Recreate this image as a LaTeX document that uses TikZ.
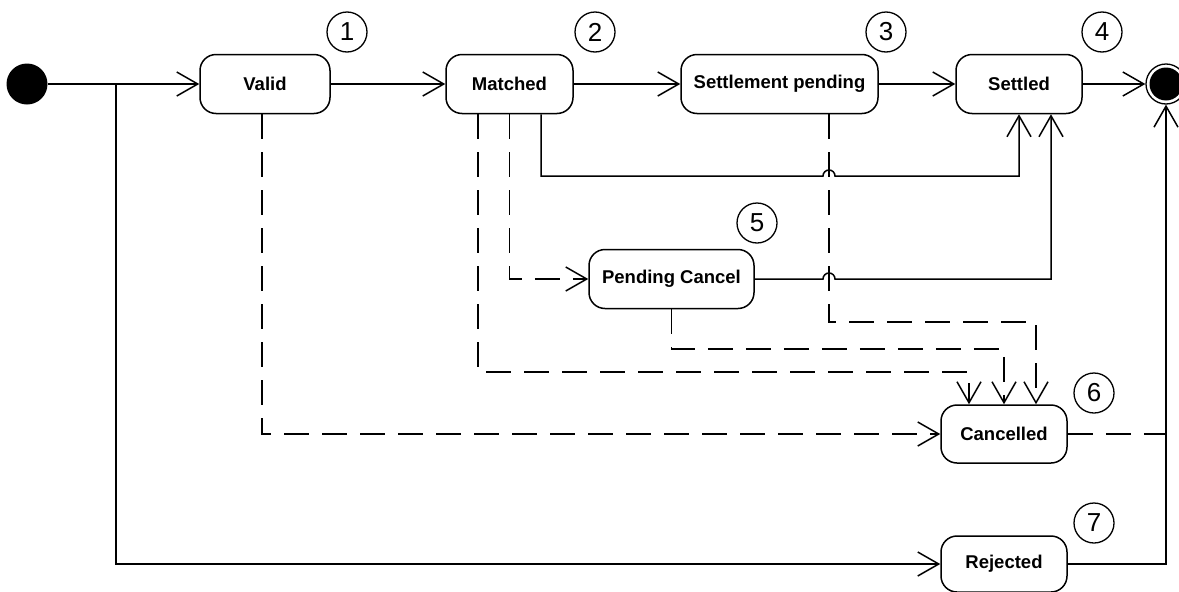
\documentclass[tikz,border=0pt]{standalone}
\usepackage{fontspec}
\setmainfont{Liberation Sans}
\usetikzlibrary{arrows.meta}
\begin{document}
\begin{tikzpicture}[x=1pt,y=-1pt,
  line width=1.5pt,
  >={Straight Barb[length=21pt,width=24pt]},
  state/.style={draw, rounded corners=16pt, minimum height=59pt, inner sep=0pt, font=\bfseries\fontsize{18.5}{20}\selectfont},
  numc/.style={draw, circle, minimum size=40pt, inner sep=0pt, line width=1.3pt, font=\fontsize{26}{26}\selectfont},
  dsh/.style={dash pattern=on 25pt off 13pt}]
\useasboundingbox (0,0) rectangle (1179,592);
% start / final
\node[circle, fill=black, minimum size=41pt, inner sep=0pt] (start) at (27,84) {};
\node[circle, draw, line width=1.3pt, minimum size=40pt, inner sep=0pt] (final) at (1166,84) {};
\fill (final.center) circle (16.5pt);
% states
\node[state, minimum width=130pt] (valid) at (265,84) {Valid};
\node[state, minimum width=127pt] (matched) at (509.5,84) {Matched};
\node[state, minimum width=197pt] (sp) at (779.5,84) {Settlement pending};
\node[state, minimum width=126pt] (settled) at (1019,84) {Settled};
\node[state, minimum width=165pt] (pc) at (671.5,279) {Pending Cancel};
\node[state, minimum width=126pt, minimum height=58pt] (cancelled) at (1004,434) {Cancelled};
\node[state, minimum width=126pt, minimum height=56pt] (rejected) at (1004,564) {Rejected};
% numbers
\node[numc] (n1) at (347,32) {1};
\node[numc] (n2) at (595,32) {2};
\node[numc] (n3) at (886,32) {3};
\node[numc] (n4) at (1102,32) {4};
\node[numc] (n5) at (757,223) {5};
\node[numc] (n6) at (1094,393) {6};
\node[numc] (n7) at (1094,523) {7};
% coordinates
\coordinate (b1) at (116,84);
\coordinate (j6) at (final.south |- cancelled.east);
% main line
\draw[->] (start) -- (valid.west);
\draw[->] (valid) -- (matched);
\draw[->] (matched) -- (sp);
\draw[->] (sp) -- (settled);
\draw[->] (settled) -- (final.west);
\draw[->] (b1) |- (rejected.west);
\draw[->] (rejected.east) -| (final.south);
\draw[dsh] (cancelled.east) -- (j6);
% valid -> cancelled
\draw[dsh,->] ([xshift=-3pt]valid.south) |- (cancelled.west);
% matched -> settled
\draw[->] ([xshift=31.5pt]matched.south) -- (541,176) -- (823,176)
  arc[start angle=180, end angle=0, radius=6pt] -- (1019,176) -- (settled.south);
% matched -> pending cancel
\draw[dsh,->] (matched.south) |- (pc.west);
% matched -> cancelled
\draw[dsh,->] ([xshift=-31.5pt]matched.south) -- (478,372) -- (969,372) -- ([xshift=-35pt]cancelled.north);
% settlement pending -> cancelled
\draw[dsh,->] ([xshift=49.5pt]sp.south) -- (829,322) -- (1036,322) -- ([xshift=32pt]cancelled.north);
% pending cancel -> settled
\draw[->] (pc.east) -- (823,279) arc[start angle=180, end angle=0, radius=6pt] -- (1051,279) -- ([xshift=32pt]settled.south);
% pending cancel -> cancelled
\draw[dsh,->] (pc.south) -- (671.5,349) -- (1004,349) -- (cancelled.north);
\end{tikzpicture}
\end{document}
